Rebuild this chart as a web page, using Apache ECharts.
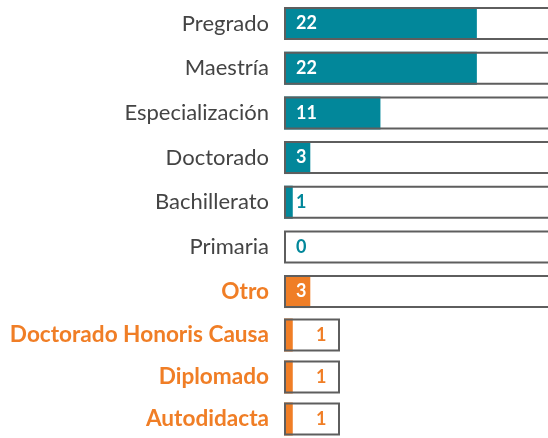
<!DOCTYPE html>
<html>
<head>
<meta charset="utf-8">
<script src="https://cdn.jsdelivr.net/npm/echarts@6/dist/echarts.min.js"></script>
<style>
  html, body { margin: 0; padding: 0; background: #fff; }
  #chart { width: 548px; height: 438px; }
</style>
</head>
<body>
<div id="chart"></div>
<script>
// categorias y valores (bloque superior)
var topCats = ["Pregrado", "Maestría", "Especialización", "Doctorado", "Bachillerato", "Primaria", "Otro"]
var topValues = [22, 22, 11, 3, 1, 0, 3]
// categorias y valores (bloque inferior, detalle de "Otro")
var otherCats = ["Doctorado Honoris Causa", "Diplomado", "Autodidacta"]
var otherValues = [1, 1, 1]

var teal = "#02879a"
var orange = "#f07e26"
var gray = "#444444"
var boxColor = "#5e5e5e"

// escala comun: px por unidad
var pxPerUnit = 263 / 30
var topWidth = 272 // el marco sale por la derecha del lienzo
var otherWidth = 56
var topMax = topWidth / pxPerUnit
var otherMax = otherWidth / pxPerUnit

var myChart = echarts.init(document.getElementById("chart"))

// etiquetas de categoria: "Otro" en naranja y negrita
function catData(cats, isOrange) {
  return cats.map(function (c) {
    var orangeItem = isOrange || c === "Otro"
    return {
      value: c,
      textStyle: {
        color: orangeItem ? orange : gray,
        fontWeight: orangeItem ? "bold" : "normal",
        fontSize: orangeItem ? 22.6 : 22,
      },
    }
  })
}

// barras rellenas con etiqueta dentro
function fillData(values, cats, isOrange) {
  return values.map(function (v, i) {
    var col = isOrange || cats[i] === "Otro" ? orange : teal
    return {
      value: v,
      itemStyle: { color: col },
      label: { color: v >= 3 ? "#fff" : col },
    }
  })
}

var catLabel = { fontSize: 22, margin: 15, fontFamily: "Lato" }
var valLabel = { show: true, position: "insideLeft", fontSize: 18, fontWeight: "bold", fontFamily: "Lato" }

var option = {
  animation: false,
  textStyle: { fontFamily: "Lato" },
  grid: [
    { left: 284, top: 1.2, width: topWidth, height: 312.7, outerBoundsMode: "none" },
    { left: 284, top: 314, width: otherWidth, height: 126, outerBoundsMode: "none" },
  ],
  xAxis: [
    { gridIndex: 0, type: "value", min: 0, max: topMax, show: false },
    { gridIndex: 1, type: "value", min: 0, max: otherMax, show: false },
  ],
  yAxis: [
    {
      gridIndex: 0,
      type: "category",
      inverse: true,
      data: catData(topCats, false),
      axisLine: { show: false },
      axisTick: { show: false },
      axisLabel: catLabel,
    },
    {
      gridIndex: 1,
      type: "category",
      inverse: true,
      data: catData(otherCats, true),
      axisLine: { show: false },
      axisTick: { show: false },
      axisLabel: catLabel,
    },
  ],
  series: [
    {
      type: "bar",
      xAxisIndex: 0,
      yAxisIndex: 0,
      barWidth: 33,
      data: fillData(topValues, topCats, false),
      label: Object.assign({ distance: 12 }, valLabel),
      z: 2,
    },
    {
      // marco de cada fila
      type: "bar",
      xAxisIndex: 0,
      yAxisIndex: 0,
      barWidth: 33,
      barGap: "-100%",
      silent: true,
      data: topCats.map(function () { return topMax }),
      itemStyle: { color: "rgba(0,0,0,0)", borderColor: boxColor, borderWidth: 2 },
      z: 3,
    },
    {
      type: "bar",
      xAxisIndex: 1,
      yAxisIndex: 1,
      barWidth: 33,
      data: fillData(otherValues, otherCats, true),
      label: Object.assign({ distance: 32 }, valLabel),
      z: 2,
    },
    {
      type: "bar",
      xAxisIndex: 1,
      yAxisIndex: 1,
      barWidth: 33,
      barGap: "-100%",
      silent: true,
      data: otherCats.map(function () { return otherMax }),
      itemStyle: { color: "rgba(0,0,0,0)", borderColor: boxColor, borderWidth: 2 },
      z: 3,
    },
  ],
}
myChart.setOption(option)
</script>
</body>
</html>
